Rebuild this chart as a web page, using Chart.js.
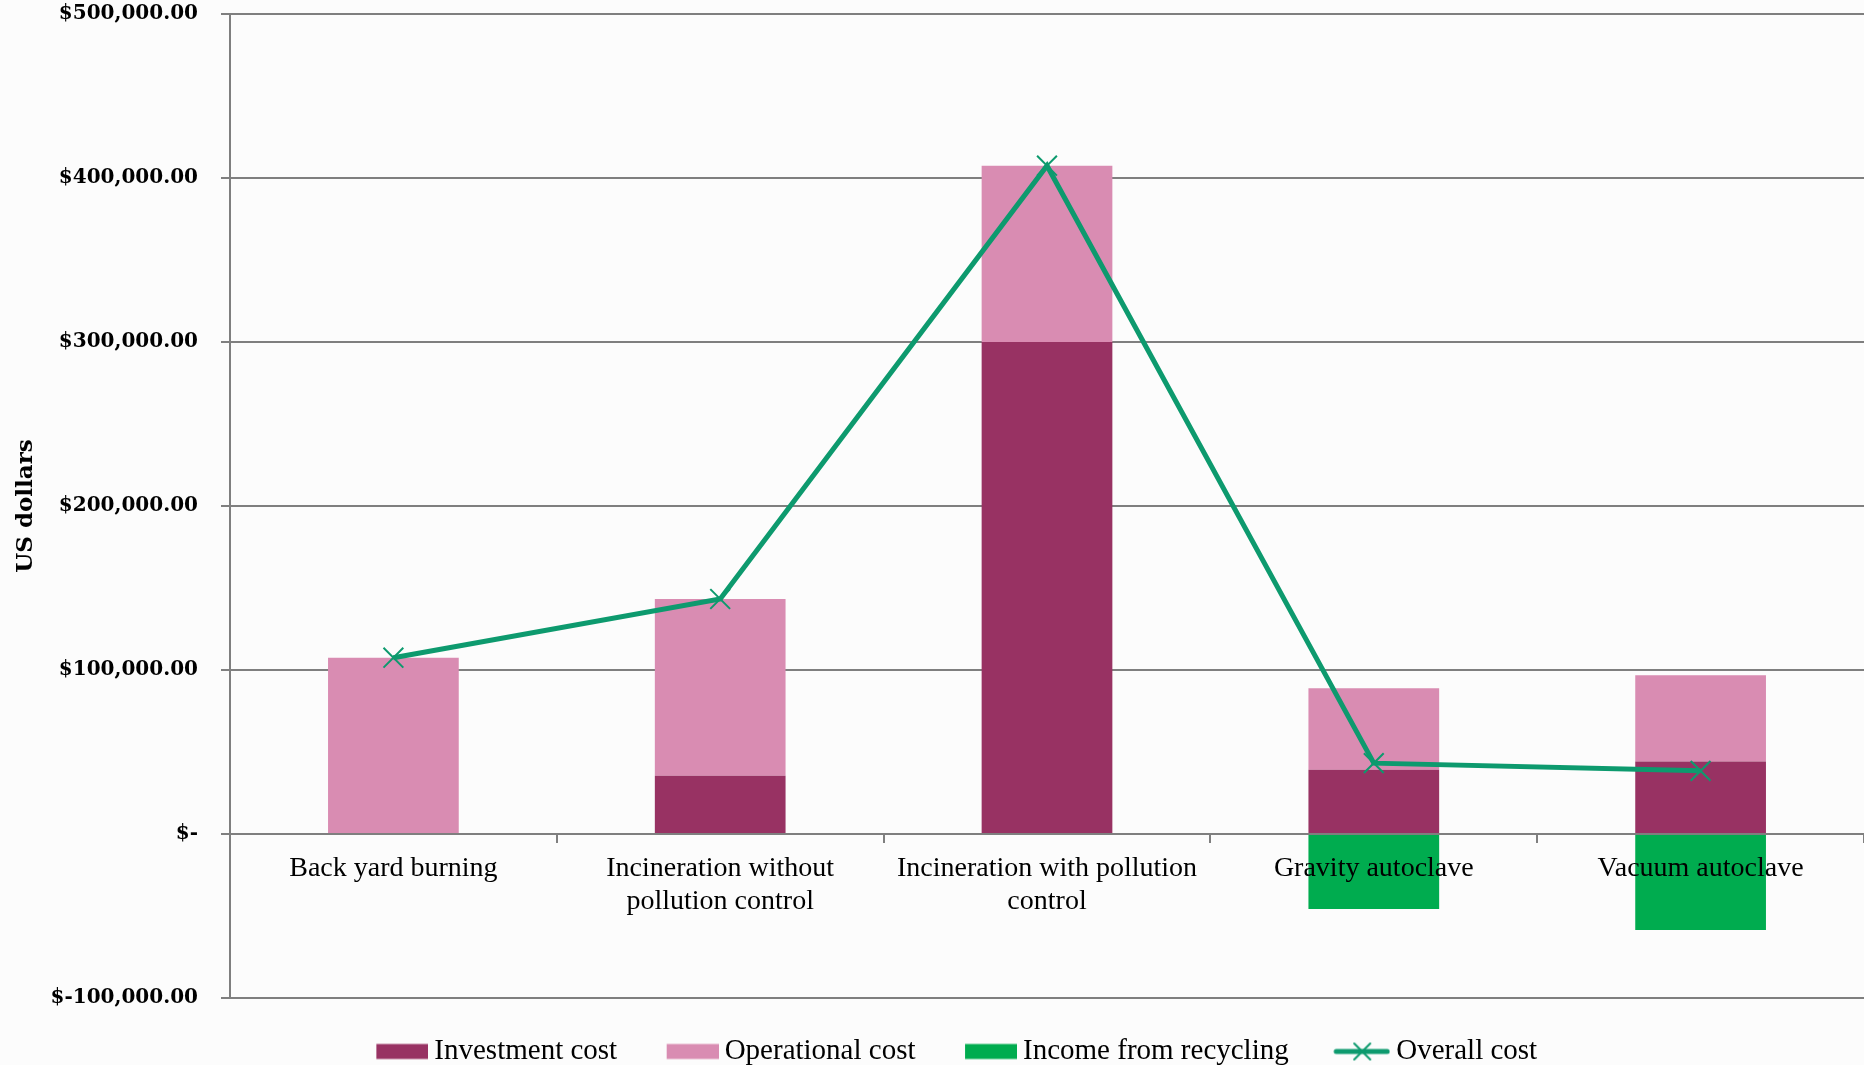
<!DOCTYPE html>
<html>
<head>
<meta charset="utf-8">
<script src="https://cdn.jsdelivr.net/npm/chart.js@4.4.0/dist/chart.umd.min.js"></script>
<style>
  html, body { margin: 0; padding: 0; background: #fcfcfc; }
  #wrap { width: 1864px; height: 1065px; position: relative; }
</style>
</head>
<body>
<div id="wrap"><canvas id="costs"></canvas></div>
<script>
// data
const categories = [
  'Back yard burning',
  ['Incineration without', 'pollution control'],
  ['Incineration with pollution', 'control'],
  'Gravity autoclave',
  'Vacuum autoclave'
];
const investmentCost = [0, 35500, 300000, 39200, 44200];
const operationalCost = [107500, 107800, 107500, 49700, 52600];
const recyclingIncome = [0, 0, 0, -45700, -58500];
const overallCost = [107500, 143300, 407500, 43200, 38500];
const yTicks = [-100000, 0, 100000, 200000, 300000, 400000, 500000];

const INVEST = '#983263';
const OPER = '#d98cb2';
const INCOME = '#00ac4f';
const OVERALL = '#0d9a6e';
const AXIS = '#7f7f7f';

// legend marks, drawn on small canvases
function mark(draw) {
  const c = document.createElement('canvas');
  c.width = 110; c.height = 22;
  draw(c.getContext('2d'));
  return c;
}
const box = col => mark(g => { g.fillStyle = col; g.fillRect(58, 3.5, 52, 15); });
const legendMarks = [
  box(INVEST),
  box(OPER),
  box(INCOME),
  mark(g => {
    g.strokeStyle = OVERALL;
    g.lineCap = 'round';
    g.lineWidth = 5;
    g.beginPath(); g.moveTo(56, 11); g.lineTo(107, 11); g.stroke();
    g.lineWidth = 2;
    g.beginPath();
    g.moveTo(74, 3); g.lineTo(90, 19);
    g.moveTo(90, 3); g.lineTo(74, 19);
    g.stroke();
  })
];

function money(v) {
  if (v === 0) return '$-';
  const s = Math.abs(v).toLocaleString('en-US', { minimumFractionDigits: 2, maximumFractionDigits: 2 });
  return (v < 0 ? '$-' : '$') + s;
}

const ctx = document.getElementById('costs');

const chart = new Chart(ctx, {
  type: 'bar',
  data: {
    labels: categories,
    datasets: [{
      label: 'Investment cost',
      data: investmentCost,
      backgroundColor: INVEST
    }, {
      label: 'Operational cost',
      data: operationalCost,
      backgroundColor: OPER
    }, {
      label: 'Income from recycling',
      data: recyclingIncome,
      backgroundColor: INCOME
    }, {
      type: 'line',
      label: 'Overall cost',
      data: overallCost,
      order: -1,
      borderColor: OVERALL,
      backgroundColor: OVERALL,
      borderWidth: 5,
      tension: 0,
      pointStyle: 'crossRot',
      pointRadius: 14,
      pointBorderWidth: 2,
      pointBorderColor: OVERALL
    }]
  },
  options: {
    responsive: true,
    maintainAspectRatio: false,
    animation: false,
    barPercentage: 0.4,
    categoryPercentage: 1,
    layout: { autoPadding: false, padding: { top: 14, left: 0, right: 0, bottom: 0 } },
    scales: {
      x: {
        stacked: true,
        position: { y: 0 },
        grid: { display: true, drawOnChartArea: false, offset: true, tickLength: 8, color: AXIS, lineWidth: 2, z: 1 },
        border: { display: true, color: AXIS, width: 2, z: 1 },
        ticks: {
          z: 1,
          color: '#000',
          padding: 11,
          font: { family: 'Liberation Serif', size: 28, lineHeight: 1.15 }
        }
      },
      y: {
        stacked: true,
        min: yTicks[0],
        max: yTicks[yTicks.length - 1],
        afterFit: s => { s.width = 230; s.paddingTop = 0; s.paddingBottom = 0; },
        afterBuildTicks: s => { s.ticks = yTicks.map(v => ({ value: v })); },
        grid: { color: AXIS, lineWidth: 2, tickLength: 9, tickColor: AXIS },
        border: { display: true, color: AXIS, width: 2 },
        ticks: {
          color: '#000',
          padding: 23,
          font: { family: 'DejaVu Serif', size: 20, weight: 'bold' },
          callback: v => money(v)
        },
        title: {
          display: true,
          text: 'US dollars',
          color: '#000',
          padding: { top: 12, bottom: 0 },
          font: { family: 'DejaVu Serif', size: 23, weight: 'bold' }
        }
      }
    },
    plugins: {
      tooltip: { enabled: false },
      legend: {
        position: 'bottom',
        maxHeight: 67,
        title: { display: true, text: '', font: { size: 1, lineHeight: 1 }, padding: { top: 38, bottom: 0 } },
        labels: {
          color: '#000',
          padding: 0,
          usePointStyle: true,
          pointStyleWidth: 93,
          font: { family: 'Liberation Serif', size: 29 },
          generateLabels(chart) {
            const items = Chart.defaults.plugins.legend.labels.generateLabels(chart);
            items.forEach(it => { it.pointStyle = legendMarks[it.datasetIndex]; });
            return items.sort((a, b) => a.datasetIndex - b.datasetIndex);
          }
        }
      }
    }
  }
});
</script>
</body>
</html>
